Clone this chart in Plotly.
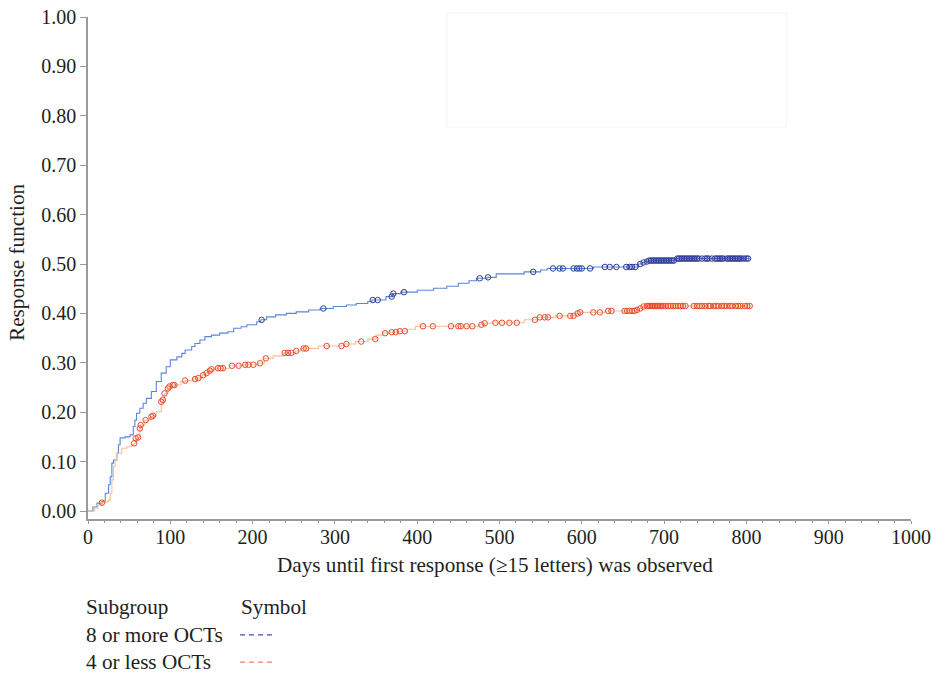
import plotly.graph_objects as go

# ---------------- data ----------------
# Kaplan-Meier style step curves (time in days, cumulative response)
blue_t = [0, 6, 11, 17, 21, 25, 27, 29, 31, 35, 37, 39, 45, 51, 55, 57, 59, 63, 67, 71,
          77, 83, 89, 95, 100, 108, 114, 118, 126, 130, 136, 142, 150, 160, 170, 177, 186,
          193, 205, 210, 217, 228, 241, 253, 268, 282, 298, 314, 326, 340, 345, 362, 370,
          380, 400, 420, 436, 450, 463, 472, 485, 496, 530, 550, 558, 614, 669, 673, 677,
          681, 714, 803]
blue_s = [0, 0.008, 0.016, 0.019, 0.036, 0.053, 0.069, 0.097, 0.103, 0.117, 0.134, 0.148,
          0.150, 0.154, 0.171, 0.184, 0.198, 0.208, 0.218, 0.228, 0.242, 0.262, 0.279,
          0.292, 0.306, 0.312, 0.319, 0.326, 0.333, 0.339, 0.346, 0.353, 0.356, 0.360,
          0.363, 0.370, 0.373, 0.377, 0.383, 0.387, 0.393, 0.397, 0.400, 0.403, 0.407,
          0.410, 0.414, 0.417, 0.420, 0.424, 0.427, 0.434, 0.440, 0.443, 0.447, 0.451,
          0.455, 0.461, 0.466, 0.471, 0.473, 0.480, 0.484, 0.488, 0.491, 0.494, 0.500,
          0.503, 0.505, 0.507, 0.511, 0.511]

orange_t = [0, 8, 12, 17, 21, 25, 27, 29, 31, 33, 35, 41, 47, 53, 56, 58, 61, 63, 64, 69,
            76, 79, 83, 89, 91, 93, 97, 99, 103, 113, 118, 128, 133, 139, 143, 147, 150,
            155, 172, 189, 207, 214, 225, 237, 252, 258, 280, 312, 325, 340, 350, 358, 366,
            376, 388, 398, 476, 481, 490, 530, 546, 568, 593, 597, 628, 666, 670, 674, 678,
            806]
orange_s = [0, 0.006, 0.012, 0.017, 0.019, 0.022, 0.036, 0.063, 0.090, 0.103, 0.117, 0.127,
            0.130, 0.134, 0.137, 0.147, 0.149, 0.167, 0.174, 0.184, 0.191, 0.193, 0.201,
            0.221, 0.225, 0.238, 0.248, 0.252, 0.255, 0.262, 0.264, 0.267, 0.269, 0.275,
            0.279, 0.284, 0.287, 0.289, 0.294, 0.296, 0.299, 0.309, 0.314, 0.320, 0.324,
            0.329, 0.334, 0.338, 0.343, 0.348, 0.356, 0.360, 0.362, 0.364, 0.368, 0.374,
            0.377, 0.380, 0.381, 0.387, 0.392, 0.395, 0.400, 0.402, 0.405, 0.407, 0.410,
            0.414, 0.415, 0.415]

# censored observations (day, level)
blue_censored = [
    (211, 0.387), (286, 0.410), (346, 0.427), (352, 0.427), (369, 0.434), (371, 0.440),
    (384, 0.443), (476, 0.471), (486, 0.473), (541, 0.484), (565, 0.491), (573, 0.491),
    (577, 0.491), (590, 0.491), (594, 0.491), (597, 0.491), (600, 0.491), (610, 0.491),
    (628, 0.494), (634, 0.494), (642, 0.494), (654, 0.494), (658, 0.494), (661, 0.494),
    (665, 0.494), (671, 0.500), (675, 0.503), (679, 0.505), (682, 0.507), (684, 0.507),
    (686, 0.507), (688, 0.507), (690, 0.507), (692, 0.507), (694, 0.507), (696, 0.507),
    (698, 0.507), (700, 0.507), (702, 0.507), (704, 0.507), (706, 0.507), (708, 0.507),
    (710, 0.507), (712, 0.507), (716, 0.511), (718, 0.511), (720, 0.511), (722, 0.511),
    (724, 0.511), (726, 0.511), (728, 0.511), (730, 0.511), (732, 0.511), (734, 0.511),
    (736, 0.511), (738, 0.511), (740, 0.511), (742, 0.511), (746, 0.511), (750, 0.511),
    (752, 0.511), (754, 0.511), (758, 0.511), (762, 0.511), (764, 0.511), (766, 0.511),
    (768, 0.511), (770, 0.511), (772, 0.511), (776, 0.511), (778, 0.511), (780, 0.511),
    (782, 0.511), (784, 0.511), (786, 0.511), (788, 0.511), (790, 0.511), (792, 0.511),
    (794, 0.511), (797, 0.511), (800, 0.511), (802, 0.511),
]
orange_censored = [
    (17, 0.017), (56, 0.137), (58, 0.147), (61, 0.149), (63, 0.167), (64, 0.174),
    (70, 0.184), (77, 0.191), (79, 0.193), (89, 0.221), (91, 0.225), (93, 0.238),
    (97, 0.248), (99, 0.252), (103, 0.255), (105, 0.255), (118, 0.264), (130, 0.267),
    (134, 0.269), (140, 0.275), (144, 0.279), (148, 0.284), (150, 0.287), (158, 0.289),
    (161, 0.289), (164, 0.289), (175, 0.294), (183, 0.294), (191, 0.296), (195, 0.296),
    (201, 0.296), (209, 0.299), (216, 0.309), (239, 0.320), (243, 0.320), (247, 0.320),
    (253, 0.324), (262, 0.329), (265, 0.329), (290, 0.334), (308, 0.334), (314, 0.338),
    (332, 0.343), (349, 0.348), (361, 0.360), (369, 0.362), (374, 0.362), (379, 0.364),
    (385, 0.364), (407, 0.374), (419, 0.374), (441, 0.374), (450, 0.374), (453, 0.374),
    (460, 0.374), (467, 0.374), (478, 0.377), (482, 0.380), (495, 0.381), (503, 0.381),
    (512, 0.381), (521, 0.381), (543, 0.387), (549, 0.392), (555, 0.392), (559, 0.392),
    (573, 0.395), (586, 0.395), (590, 0.395), (595, 0.400), (598, 0.402), (614, 0.402),
    (622, 0.402), (632, 0.405), (636, 0.405), (652, 0.405), (655, 0.405), (658, 0.405),
    (661, 0.405), (664, 0.405), (667, 0.407), (671, 0.410), (675, 0.414), (679, 0.415),
    (681, 0.415), (683, 0.415), (685, 0.415), (687, 0.415), (689, 0.415), (691, 0.415),
    (693, 0.415), (695, 0.415), (697, 0.415), (699, 0.415), (702, 0.415), (705, 0.415),
    (708, 0.415), (711, 0.415), (714, 0.415), (717, 0.415), (720, 0.415), (723, 0.415),
    (726, 0.415), (736, 0.415), (740, 0.415), (743, 0.415), (746, 0.415), (750, 0.415),
    (754, 0.415), (756, 0.415), (760, 0.415), (763, 0.415), (766, 0.415), (770, 0.415),
    (773, 0.415), (776, 0.415), (780, 0.415), (783, 0.415), (787, 0.415), (790, 0.415),
    (793, 0.415), (798, 0.415), (801, 0.415), (804, 0.415),
]

x_ticks = [0, 100, 200, 300, 400, 500, 600, 700, 800, 900, 1000]
y_ticks = [0.0, 0.1, 0.2, 0.3, 0.4, 0.5, 0.6, 0.7, 0.8, 0.9, 1.0]
y_tick_text = ["0.00", "0.10", "0.20", "0.30", "0.40", "0.50", "0.60", "0.70", "0.80", "0.90", "1.00"]
groups = ["8 or more OCTs", "4 or less OCTs"]

# ---------------- styles ----------------
FONT = "Liberation Serif"
BLUE_LINE = "#5b86d6"
BLUE_MARK = "#2e3b96"
ORANGE_LINE = "#f8bf98"
ORANGE_MARK = "#ea4a2e"
AXIS_COL = "#9a9a9a"
TXT = 21.2

fig = go.Figure()

fig.add_trace(go.Scatter(x=blue_t, y=blue_s, mode="lines", line_shape="hv",
                         line=dict(color=BLUE_LINE, width=1.1), hoverinfo="skip",
                         showlegend=False))
fig.add_trace(go.Scatter(x=orange_t, y=orange_s, mode="lines", line_shape="hv",
                         line=dict(color=ORANGE_LINE, width=1.1), hoverinfo="skip",
                         showlegend=False))
fig.add_trace(go.Scatter(x=[c[0] for c in blue_censored], y=[c[1] for c in blue_censored],
                         mode="markers",
                         marker=dict(symbol="circle-open", size=5.5, color=BLUE_MARK,
                                     line=dict(width=1)),
                         showlegend=False))
fig.add_trace(go.Scatter(x=[c[0] for c in orange_censored], y=[c[1] for c in orange_censored],
                         mode="markers",
                         marker=dict(symbol="circle-open", size=5.5, color=ORANGE_MARK,
                                     line=dict(width=1)),
                         showlegend=False))

fig.update_layout(
    width=931, height=673,
    margin=dict(l=88, r=20, t=17, b=154, autoexpand=False),
    paper_bgcolor="white", plot_bgcolor="white",
    font=dict(family=FONT, size=20, color="#231f20"),
    showlegend=False,
    xaxis=dict(range=[0, 1000], tickvals=x_ticks, ticks="outside", ticklen=3,
               tickcolor=AXIS_COL, showline=True, linecolor=AXIS_COL, linewidth=1.5,
               showgrid=False, zeroline=False, tickfont=dict(size=20), automargin=False,
               ticklabelstandoff=-4,
               minor=dict(dtick=20, ticks="outside", ticklen=2, tickcolor=AXIS_COL)),
    yaxis=dict(range=[-0.0162, 1.0], tickvals=y_ticks, ticktext=y_tick_text,
               ticks="outside", ticklen=6, tickcolor=AXIS_COL, showline=True,
               linecolor=AXIS_COL, linewidth=1.5, showgrid=False, zeroline=False,
               tickfont=dict(size=20), automargin=False),
    annotations=[
        dict(text="Days until first response (≥15 letters) was observed",
             xref="paper", yref="paper", x=0.4945, y=-0.0916, xanchor="center",
             yanchor="middle", showarrow=False, font=dict(size=TXT)),
        dict(text="Response function", xref="paper", yref="paper", x=-0.0863, y=0.512,
             textangle=-90, xanchor="center", yanchor="middle", showarrow=False,
             font=dict(size=TXT)),
        dict(text="Subgroup", xref="paper", yref="paper", x=-0.0045, y=-0.175,
             xanchor="left", yanchor="middle", showarrow=False, font=dict(size=TXT)),
        dict(text="Symbol", xref="paper", yref="paper", x=0.1835, y=-0.175,
             xanchor="left", yanchor="middle", showarrow=False, font=dict(size=TXT)),
        dict(text=groups[0], xref="paper", yref="paper", x=-0.0045, y=-0.231,
             xanchor="left", yanchor="middle", showarrow=False, font=dict(size=TXT)),
        dict(text=groups[1], xref="paper", yref="paper", x=-0.0045, y=-0.285,
             xanchor="left", yanchor="middle", showarrow=False, font=dict(size=TXT)),
    ],
    shapes=[
        dict(type="line", xref="paper", yref="paper", x0=0.1847, x1=0.2248, y0=-0.231,
             y1=-0.231, line=dict(color="#3a4aa8", width=1.3, dash="5px,4px")),
        dict(type="line", xref="paper", yref="paper", x0=0.1847, x1=0.2248, y0=-0.285,
             y1=-0.285, line=dict(color="#f07c5c", width=1.3, dash="5px,4px")),
        dict(type="rect", xref="paper", yref="paper", x0=0.436, x1=0.849, y0=0.781,
             y1=1.008, line=dict(color="#f4f4f4", width=1)),
    ],
)

fig.write_html("out.html", config={"displayModeBar": False},
               post_script="document.body.style.margin='0';document.body.style.overflow='hidden';")
